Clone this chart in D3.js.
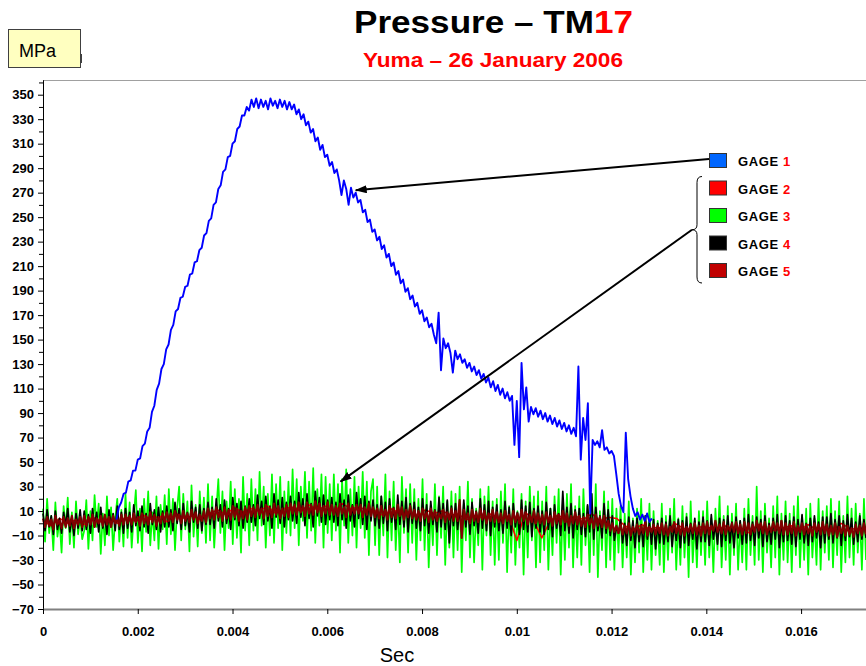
<!DOCTYPE html>
<html>
<head>
<meta charset="utf-8">
<script src="https://cdn.jsdelivr.net/npm/d3@7"></script>
<style>
  body { margin: 0; background: #fff; }
  svg { display: block; font-family: "Liberation Sans", Arial, sans-serif; }
</style>
</head>
<body>
<svg id="chart" width="866" height="666"></svg>
<script>
//#region DATA /////////////////////////////////////////////////////////////////

const TITLE = "Pressure \u2013 TM", TITLE_RED = "17";
const SUBTITLE = "Yuma \u2013 26 January 2006";
const UNIT = "MPa", X_LABEL = "Sec";

const yTicks = [-70, -50, -30, -10, 10, 30, 50, 70, 90, 110, 130, 150, 170,
                190, 210, 230, 250, 270, 290, 310, 330, 350];
const yMinorTicks = [-60, -40, -20, 0, 20, 40, 60, 80, 100, 120, 140, 160, 180,
                     200, 220, 240, 260, 280, 300, 320, 340, 360];
const xTicks = [0, 0.002, 0.004, 0.006, 0.008, 0.01, 0.012, 0.014, 0.016];
const X_END = 0.01737; // right edge of the record, sec

const gageNumbers = ["1", "2", "3", "4", "5"];

// GAGE 1, every 0.05 ms from 1.55 ms to 12.85 ms (MPa)
const GAGE1_START_MS = 1.55, GAGE1_END_MS = 12.85;
const gage1MPa = [
  3, 13, 17, 24, 25, 34, 35, 43, 43, 52,
  53, 63, 65, 75, 78, 91, 96, 109, 114, 126,
  130, 142, 146, 158, 162, 173, 175, 184, 185, 193,
  194, 203, 204, 213, 214, 223, 225, 235, 237, 247,
  249, 260, 262, 273, 276, 287, 289, 299, 300, 310,
  312, 322, 324, 333, 333, 340, 337, 346, 340, 347,
  339, 346, 340, 345, 338, 347, 341, 345, 339, 346,
  340, 345, 338, 344, 338, 342, 334, 338, 330, 334,
  325, 328, 319, 322, 312, 315, 305, 309, 299, 301,
  292, 295, 286, 289, 280, 268, 280, 273, 260, 274,
  266, 270, 262, 264, 254, 256, 246, 248, 238, 240,
  231, 234, 224, 227, 217, 220, 210, 213, 203, 206,
  196, 199, 189, 192, 183, 186, 177, 180, 171, 174,
  165, 168, 160, 163, 154, 147, 172, 125, 151, 143,
  147, 139, 123, 141, 134, 138, 131, 134, 127, 131,
  124, 128, 121, 125, 118, 122, 115, 119, 111, 116,
  108, 113, 105, 110, 102, 107, 100, 104, 64, 100,
  54, 131, 93, 111, 83, 95, 89, 94, 87, 92,
  85, 90, 83, 88, 81, 86, 79, 84, 77, 82,
  75, 80, 73, 78, 71, 128, 52, 86, 68, 98,
  8, 68, 64, 67, 62, 76, 60, 62, 57, 59,
  55, 40, 24, 14, 9, 74, 36, 22, 12, 6,
  9, 3, 7, 2, 8, 1, 4
];

// GAGES 2-5, evenly sampled over [0, X_END], MPa
const gage2MPa = [
  2, -2, 4, 0, 3, -1, 5, 1, 4, 0,
  5, 2, 7, 3, 6, 1, 8, 4, 6, 3,
  8, 11, 7, 13, 9, 12, 10, 14, 8, 12,
  13, 10, 15, 11, 14, 9, 16, 12, 13, 11,
  10, 6, 12, 7, 9, 5, 11, 8, 10, 7,
  7, 3, 6, 4, 8, 2, 6, -14, 9, 3,
  -12, 2, 7, 1, 6, 3, 8, 2, 5, 4,
  -2, -6, -1, -5, -3, -7, 0, -4, -6, -3,
  -3, -7, -2, -6, -4, -8, -1, -5, -6, -4,
  -2, -6, -1, -5, -3, -7, 0, -4, -5, -3
];
const gage3MPa = [
  12, -15, 20, -8, 6, -22, 17, -11, 3, -24, 14, -4, 21, -17, 9, -20, 18, -9, 5, -13,
  -6, 19, -21, 10, -14, 23, -3, 16, -25, 8, -18, 22, -10, 13, -22, 4, 20, -15, 11, -19,
  24, -12, 17, -20, 6, 27, -16, 12, -23, 20, -7, 26, -18, 9, -14, 22, -21, 15, -5, 23,
  -17, 28, -9, 20, -22, 12, 30, -14, 24, -5, 18, -23, 31, -11, 15, -19, 26, -8, 21, -16,
  32, -14, 22, -20, 10, 36, -8, 26, -22, 18, -4, 34, -17, 28, -12, 20, -24, 38, -6, 24,
  -18, 36, -6, 28, -14, 42, -2, 30, -20, 24, -10, 40, -16, 32, -4, 38, -22, 26, -8, 34,
  -10, 44, -4, 36, -18, 30, 2, 42, -12, 34, -6, 45, -16, 28, -2, 40, -20, 38, -8, 32,
  -14, 40, -6, 32, -24, 36, -2, 44, -16, 28, -10, 38, -20, 30, -4, 42, -12, 34, -26, 26,
  36, -18, 30, -26, 22, -10, 40, -28, 26, -14, 34, -22, 18, -32, 38, -8, 28, -24, 32, -16,
  28, -30, 20, -14, 36, -22, 24, -36, 14, -18, 32, -26, 22, -12, 30, -34, 18, -20, 26, -28,
  24, -22, 30, -40, 16, -14, 34, -28, 20, -32, 12, -18, 28, -38, 22, -10, 30, -26, 18, -34,
  20, -30, 26, -16, 32, -40, 14, -24, 28, -34, 10, -20, 24, -42, 18, -28, 30, -14, 22, -36,
  26, -32, 18, -22, 30, -38, 12, -26, 22, -16, 28, -42, 16, -30, 24, -20, 32, -36, 14, -28,
  22, -34, 28, -18, 14, -40, 24, -26, 32, -44, 10, -22, 26, -36, 18, -30, 20, -38, 12, -24,
  14, -36, 8, -28, 18, -42, 4, -32, 12, -24, 20, -40, 6, -30, 16, -38, 10, -26, 2, -34,
  16, -40, 6, -30, 12, -24, 20, -38, 4, -34, 14, -28, 8, -44, 18, -32, 2, -36, 10, -26,
  10, -34, 18, -28, 4, -40, 12, -22, 22, -36, 6, -30, 14, -42, 8, -26, 16, -38, 2, -32,
  12, -38, 20, -26, 6, -34, 30, -30, 10, -40, 16, -24, 4, -36, 14, -28, 22, -42, 8, -30,
  18, -32, 8, -40, 14, -26, 22, -36, 6, -30, 12, -42, 16, -28, 4, -34, 20, -38, 10, -24,
  14, -30, 20, -36, 10, -26, 18, -40, 6, -32, 22, -28, 12, -34, 16, -24, 8, -38, 20, -30
];
const gage4MPa = [
  8, -6, 11, -3, 6, -9, 10, -5, 4, -8, 9, -2, 12, -7, 5, -10, 8, -4, 11, -6,
  10, -5, 7, -8, 12, -3, 9, -7, 13, -4, 6, -9, 11, -2, 8, -6, 14, -5, 9, -8,
  12, -4, 9, -7, 15, -2, 10, -6, 14, -3, 8, -8, 16, -1, 11, -5, 13, -7, 10, -3,
  14, -3, 11, -6, 17, 0, 12, -5, 16, -2, 9, -7, 18, 1, 13, -4, 15, -6, 12, -1,
  17, -1, 13, -4, 20, 2, 15, -3, 19, 0, 12, -5, 21, 3, 16, -2, 18, -4, 14, 1,
  20, 1, 15, -2, 23, 4, 18, -1, 22, 2, 14, -4, 24, 5, 19, 0, 21, -3, 17, 3,
  22, 2, 18, 0, 25, 5, 20, -2, 24, 4, 16, -3, 26, 6, 21, 1, 23, -1, 19, 3,
  21, 1, 17, -2, 24, 3, 19, -4, 23, 2, 15, -3, 25, 4, 20, -1, 22, -5, 18, 2,
  19, -2, 15, -4, 22, 0, 17, -6, 20, 1, 13, -5, 23, -1, 18, -3, 21, -7, 16, 0,
  17, -4, 13, -6, 20, -2, 15, -8, 18, -1, 11, -7, 21, -3, 16, -5, 19, -16, 14, -2,
  16, -5, 12, -7, 19, -3, 14, -9, 17, -2, 10, -8, 20, -4, 15, -6, 18, -10, 13, -3,
  15, -6, 11, -8, 18, -4, 13, -10, 16, -3, 9, -9, 19, -5, 14, -7, 17, -11, 12, -4,
  14, -7, 10, -9, 17, -5, 12, -11, 15, -4, 8, -10, 26, -6, 13, -8, 16, -12, 11, -5,
  12, -9, 8, -11, 15, -7, 24, -13, 13, -6, 6, -12, 16, -8, 11, -10, 6, -14, -3, -8,
  3, -16, 0, -18, 5, -14, 2, -20, 4, -15, -1, -19, 6, -13, 1, -17, 3, -21, 0, -16,
  4, -17, 1, -15, 6, -19, -1, -14, 3, -20, 2, -16, 5, -18, 0, -13, 4, -21, 1, -15,
  5, -15, 2, -18, 7, -13, 0, -17, 4, -19, 3, -14, 6, -16, 1, -20, 5, -12, 2, -17,
  4, -16, 7, -14, 1, -18, 5, -12, 3, -19, 6, -15, 0, -17, 4, -13, 7, -20, 2, -15,
  6, -14, 2, -17, 5, -19, 3, -13, 7, -16, 0, -18, 4, -15, 6, -12, 1, -20, 5, -16,
  5, -13, 8, -16, 3, -12, 6, -18, 2, -14, 7, -11, 4, -17, 1, -15, 6, -13, 3, -12
];
const gage5MPa = [
  4, -3, 5, -2, 3, -5, 6, -1, 2, -4, 5, -3, 4, -2, 6, -4, 3, -1, 5, -3,
  6, -2, 5, -1, 7, -3, 4, 0, 6, -2, 7, -1, 5, -3, 6, 0, 4, -2, 7, -1,
  7, 0, 6, -1, 8, 1, 5, -2, 8, 0, 6, -1, 9, 1, 7, -2, 5, 0, 8, 1,
  9, 2, 8, 1, 10, 3, 7, 0, 10, 2, 8, 1, 11, 3, 9, 0, 7, 2, 10, 1,
  12, 4, 11, 3, 13, 5, 10, 2, 13, 4, 11, 3, 14, 5, 12, 2, 10, 4, 13, 3,
  14, 6, 13, 5, 15, 7, 12, 4, 15, 6, 13, 5, 16, 7, 14, 4, 12, 6, 15, 5,
  16, 8, 15, 7, 17, 9, 14, 6, 17, 8, 15, 7, 18, 9, 16, 6, 14, 8, 17, 7,
  15, 7, 14, 6, 16, 8, 13, 5, 16, 7, 14, 8, 15, 8, 15, 5, 13, 7, 16, 6,
  13, 5, 12, 4, 14, 6, 11, 3, 14, 5, 12, 4, 15, 6, 13, 3, 11, 5, 14, 4,
  11, 3, 10, 2, 12, 4, 9, 1, 12, 3, 10, 2, 8, 4, 11, 1, 9, 3, 12, 2,
  10, 2, 19, -12, 11, 3, 8, 0, 11, 2, 9, 1, 12, 3, 10, 0, 8, 2, 11, 1,
  9, 1, 8, 0, 10, 2, 7, -1, 10, 1, 8, 0, 11, 2, 9, -1, 7, 1, 10, 0,
  8, 0, 7, -1, 9, 1, 6, -2, 9, 0, 7, -1, 10, 1, 8, -2, 6, 0, 9, -1,
  6, -2, 5, -3, 7, -1, 4, -4, 7, -2, 5, -3, 6, -4, 2, -6, 0, -7, -2, -8,
  -1, -9, -2, -8, 0, -10, -3, -7, -1, -9, -2, -8, 1, -10, -3, -7, -1, -9, -2, -8,
  0, -9, -1, -10, -3, -7, 1, -8, -2, -9, 0, -10, -3, -7, -1, -8, 0, -9, -2, -10,
  0, -8, 1, -9, -2, -6, 2, -7, -1, -8, 1, -9, -2, -6, 0, -7, 1, -8, -1, -9,
  1, -8, 0, -9, -1, -7, 2, -6, 0, -8, 1, -9, -2, -7, 1, -6, 0, -8, 2, -9,
  0, -9, -1, -8, 1, -10, -2, -7, 0, -9, -1, -8, -3, -10, 0, -7, -1, -9, 1, -8,
  -1, -10, -2, -9, 0, -11, -3, -8, -1, -10, -2, -9, -4, -11, -1, -8, -2, -10, 0, -9
];

//#endregion

//#region LAYOUT ///////////////////////////////////////////////////////////////

const PLOT_LEFT = 43, PLOT_RIGHT = 866, PLOT_TOP = 80, PLOT_BOTTOM = 609;
const FONT = "'Liberation Sans', Arial, sans-serif";
const LINE_COLORS = ["#0000ff", "#ff0000", "#00ff00", "#000000", "#800000"];
const KEY_COLORS = ["#0066ff", "#ff0000", "#00ff00", "#000000", "#c00000"];

const svg = d3.select("#chart");
svg.append("rect").attr("width", 866).attr("height", 666).attr("fill", "#fff");

const x = d3.scaleLinear().domain([0, X_END]).range([PLOT_LEFT, PLOT_RIGHT]);
const y = d3.scaleLinear().domain([-70, 362]).range([PLOT_BOTTOM, PLOT_TOP]);

//#endregion

//#region DRAWING //////////////////////////////////////////////////////////////

function drawFrame()
{
  // grey top border of the plot area
  svg.append("line")
      .attr("x1", PLOT_LEFT).attr("x2", PLOT_RIGHT)
      .attr("y1", PLOT_TOP + 0.5).attr("y2", PLOT_TOP + 0.5)
      .attr("stroke", "#a0a0a0");
}

function drawAxes()
{
  let yAxis = svg.append("g").attr("transform", "translate(" + PLOT_LEFT + ",0)");
  yAxis.call(d3.axisLeft(y).tickValues(yTicks).tickSize(5).tickSizeOuter(0)
                 .tickPadding(4));
  yAxis.append("g").call(d3.axisLeft(y).tickValues(yMinorTicks).tickSize(4)
                              .tickFormat("").tickSizeOuter(0));
  yAxis.selectAll("text")
      .attr("font-family", FONT).attr("font-weight", "bold")
      .attr("font-size", 13).attr("fill", "#000");
  yAxis.selectAll("path, line").attr("stroke", "#000");

  let fmt = d => d === 0 ? "0" : String(+d.toFixed(3));
  let xAxis = svg.append("g").attr("transform", "translate(0," + PLOT_BOTTOM + ")");
  xAxis.call(d3.axisBottom(x).tickValues(xTicks).tickSize(5).tickSizeOuter(0)
                 .tickPadding(13).tickFormat(fmt));
  xAxis.select(".domain").attr("stroke", "#808080").attr("stroke-width", 2);
  xAxis.selectAll("line").attr("stroke", "#000");
  xAxis.selectAll("text")
      .attr("font-family", FONT).attr("font-weight", "bold")
      .attr("font-size", 13).attr("fill", "#000");

  svg.append("text")
      .attr("x", 397).attr("y", 662)
      .attr("text-anchor", "middle")
      .attr("font-family", FONT).attr("font-size", 20)
      .text(X_LABEL);
}

function drawSeries()
{
  let plot = svg.append("g");

  // evenly sampled gages, drawn back to front
  let even = (values, t0, t1, color, width) => {
    let step = (t1 - t0) / (values.length - 1);
    let gen = d3.line().x((_d, i) => x(t0 + i * step)).y(d => y(d));
    plot.append("path")
        .attr("d", gen(values))
        .attr("fill", "none")
        .attr("stroke", color)
        .attr("stroke-width", width)
        .attr("stroke-linejoin", "round");
  };
  even(gage3MPa, 0, X_END, LINE_COLORS[2], 1.7);
  even(gage2MPa, 0, X_END, LINE_COLORS[1], 1.5);
  even(gage4MPa, 0, X_END, LINE_COLORS[3], 1.7);
  even(gage5MPa, 0, X_END, LINE_COLORS[4], 2.2);
  even(gage1MPa, GAGE1_START_MS / 1000, GAGE1_END_MS / 1000,
       LINE_COLORS[0], 1.9);
}

function drawTitles()
{
  let title = svg.append("text")
      .attr("x", 354).attr("y", 33)
      .attr("textLength", 279).attr("lengthAdjust", "spacingAndGlyphs")
      .attr("font-family", FONT).attr("font-weight", "bold")
      .attr("font-size", 31).attr("fill", "#000");
  title.append("tspan").text(TITLE);
  title.append("tspan").attr("fill", "#ff0000").text(TITLE_RED);

  svg.append("text")
      .attr("x", 363).attr("y", 67)
      .attr("textLength", 260).attr("lengthAdjust", "spacingAndGlyphs")
      .attr("font-family", FONT).attr("font-weight", "bold")
      .attr("font-size", 20).attr("fill", "#ff0000")
      .text(SUBTITLE);

  // unit box in the top left corner
  svg.append("rect")
      .attr("x", 8.5).attr("y", 29.5).attr("width", 72).attr("height", 38)
      .attr("fill", "#ffffc0").attr("stroke", "#404040");
  svg.append("line")
      .attr("x1", 81.5).attr("x2", 81.5).attr("y1", 54).attr("y2", 63)
      .attr("stroke", "#404040");
  svg.append("text")
      .attr("x", 19).attr("y", 57)
      .attr("font-family", FONT).attr("font-size", 18)
      .text(UNIT);
}

function drawLegend()
{
  let key = svg.append("g");
  let rowY = i => 153 + i * 27.5;

  key.selectAll("rect").data(gageNumbers).enter().append("rect")
      .attr("x", 709.5).attr("y", (_d, i) => rowY(i) + 0.5)
      .attr("width", 17).attr("height", 14)
      .attr("fill", (_d, i) => KEY_COLORS[i])
      .attr("stroke", "#333");

  let labels = key.selectAll("text").data(gageNumbers).enter().append("text")
      .attr("x", 738).attr("y", (_d, i) => rowY(i) + 13)
      .attr("font-family", FONT).attr("font-weight", "bold")
      .attr("font-size", 13).attr("letter-spacing", 0.6);
  labels.append("tspan").attr("fill", "#000").text("GAGE ");
  labels.append("tspan").attr("fill", "#ff0000").text(d => d);

  // brace grouping gages 2-5
  let top = rowY(1) - 4, bot = rowY(4) + 20, mid = (top + bot) / 2;
  key.append("path")
      .attr("d", "M702," + top + " Q697," + top + " 697," + (top + 6) +
                 " L697," + (mid - 5) + " Q697," + mid + " 692," + mid +
                 " Q697," + mid + " 697," + (mid + 5) +
                 " L697," + (bot - 6) + " Q697," + bot + " 702," + bot)
      .attr("fill", "none").attr("stroke", "#000");

  // pointer arrows from the key into the plot
  svg.append("defs").append("marker")
      .attr("id", "head").attr("markerUnits", "userSpaceOnUse")
      .attr("markerWidth", 12).attr("markerHeight", 8)
      .attr("refX", 11).attr("refY", 4).attr("orient", "auto")
      .append("path").attr("d", "M0,0 L12,4 L0,8 Z").attr("fill", "#000");

  let arrow = (x1, y1, x2, y2) => svg.append("line")
      .attr("x1", x1).attr("y1", y1).attr("x2", x2).attr("y2", y2)
      .attr("stroke", "#000").attr("stroke-width", 2)
      .attr("marker-end", "url(#head)");
  arrow(709, rowY(0) + 6, x(0.0066), y(272));
  arrow(692, mid, x(0.00628), y(34));
}

drawFrame();
drawSeries();
drawAxes();
drawTitles();
drawLegend();

//#endregion
</script>
</body>
</html>
